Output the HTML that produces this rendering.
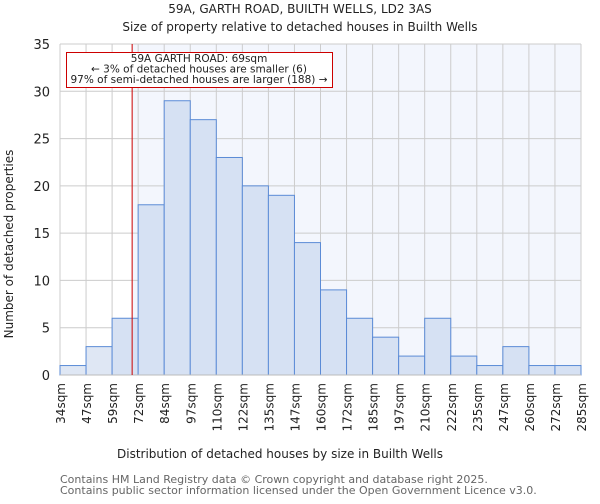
<!DOCTYPE html>
<html><head><meta charset="utf-8"><style>
body{margin:0;background:#fff;font-family:"DejaVu Sans","Liberation Sans",sans-serif}
svg text{font-family:"DejaVu Sans","Liberation Sans",sans-serif}
</style></head><body>
<svg id="chart" width="600" height="500" xmlns="http://www.w3.org/2000/svg">
<text x="300" y="13" font-size="12" text-anchor="middle" fill="#222">59A, GARTH ROAD, BUILTH WELLS, LD2 3AS</text>
<text x="300" y="31" font-size="12" text-anchor="middle" fill="#222">Size of property relative to detached houses in Builth Wells</text>
<g id="plot"></g>
<text x="280" y="458" font-size="12" text-anchor="middle" fill="#222">Distribution of detached houses by size in Builth Wells</text>
<text transform="translate(13,244) rotate(-90)" font-size="12" text-anchor="middle" fill="#222">Number of detached properties</text>
<text x="60" y="483" font-size="11" fill="#666">Contains HM Land Registry data © Crown copyright and database right 2025.</text>
<text x="60" y="494" font-size="11" fill="#666">Contains public sector information licensed under the Open Government Licence v3.0.</text>
</svg>
<script>
const binLabels=["34sqm","47sqm","59sqm","72sqm","84sqm","97sqm","110sqm","122sqm","135sqm","147sqm","160sqm","172sqm","185sqm","197sqm","210sqm","222sqm","235sqm","247sqm","260sqm","272sqm","285sqm"];
const counts=[1,3,6,18,29,27,23,20,19,14,9,6,4,2,6,2,1,3,1,1];
const yTicks=[0,5,10,15,20,25,30,35];
const markerValue=69;
const binEdges=[34,47,59,72,84,97,110,122,135,147,160,172,185,197,210,222,235,247,260,272,285];
const X0=60,X1=581,Y0=375,Y1=44,YMAX=35;
const NS="http://www.w3.org/2000/svg";
const g=document.getElementById('plot');
const bw=(X1-X0)/counts.length;
const xi=i=>X0+i*bw;
const y=v=>Y0-(v/YMAX)*(Y0-Y1);
function xv(v){for(let i=0;i<binEdges.length-1;i++){if(v<=binEdges[i+1])return xi(i)+(v-binEdges[i])/(binEdges[i+1]-binEdges[i])*bw;}return X1;}
function mk(t,a){const e=document.createElementNS(NS,t);for(const k in a)e.setAttribute(k,a[k]);g.appendChild(e);return e;}
const mx=xv(markerValue);
let e=mk('rect',{x:X0,y:Y1,width:mx-X0,height:Y0-Y1,fill:'#ffffff'});


e=mk('rect',{x:mx,y:Y1,width:X1-mx,height:Y0-Y1,fill:'#f3f6fd'});


binLabels.forEach((l,i)=>{
 const ln=mk('line',{x1:xi(i),x2:xi(i),y1:Y1,y2:Y0,stroke:'#cccccc','stroke-width':1});
 
 
 const t=mk('text',{transform:`translate(${xi(i)+5},${Y0+8}) rotate(-90)`,'font-size':12,'text-anchor':'end',fill:'#222'});
 t.textContent=l;
 
 
});
yTicks.forEach(v=>{
 const ln=mk('line',{x1:X0,x2:X1,y1:y(v),y2:y(v),stroke:'#cccccc','stroke-width':1});
 
 
 const t=mk('text',{x:X0-10,y:y(v)+5,'font-size':13,'text-anchor':'end',fill:'#222'});
 t.textContent=v;
 
 
});
counts.forEach((c,i)=>{
 const r=mk('rect',{x:xi(i),y:y(c),width:bw,height:Y0-y(c),fill:xi(i+1)<=mx?'#dfe7f4':'#d6e1f3',stroke:'#5b8bd6','stroke-width':1});
 
 
});
e=mk('line',{x1:X0,x2:X1,y1:Y0,y2:Y0,stroke:'#bbbbbb','stroke-width':1});


e=mk('line',{x1:mx,x2:mx,y1:Y1,y2:Y0,stroke:'#cc0000','stroke-width':1});


e=mk('rect',{x:66.5,y:52.5,width:266,height:35,fill:'#fff',stroke:'#cc0000','stroke-width':1});


["59A GARTH ROAD: 69sqm","← 3% of detached houses are smaller (6)","97% of semi-detached houses are larger (188) →"].forEach((s,k)=>{
 const t=mk('text',{x:199,y:62+k*10.5,'font-size':10.5,'text-anchor':'middle',fill:'#222'});
 t.textContent=s;
 
 
});
</script>
</body></html>
